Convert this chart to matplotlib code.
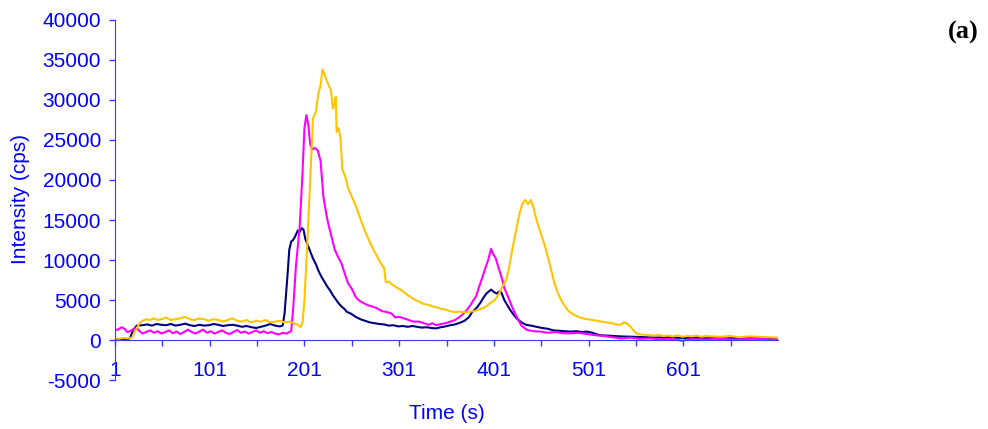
import numpy as np
import matplotlib
matplotlib.use("Agg")
import matplotlib.pyplot as plt

# data (time in s, intensity in cps)
navy_t = [1, 5, 10, 15, 17, 20, 24, 30, 35, 40, 45, 50, 55, 60, 65, 70, 75, 80, 85, 90,
          95, 100, 105, 110, 115, 120, 125, 130, 135, 140, 145, 150, 155, 160, 165, 170,
          175, 178, 180, 183, 185, 187, 189, 191, 194, 196, 198, 200, 202, 205, 208, 210,
          213, 216, 219, 222, 225, 228, 231, 234, 237, 240, 243, 246, 250, 255, 260, 265,
          270, 275, 280, 285, 290, 295, 300, 305, 310, 315, 320, 325, 330, 335, 340, 345,
          350, 355, 360, 365, 370, 375, 378, 381, 384, 387, 390, 393, 396, 398, 401, 404,
          407, 409, 412, 415, 418, 421, 425, 430, 435, 440, 446, 452, 458, 464, 470, 476,
          482, 488, 494, 499, 505, 510, 513, 520, 528, 535, 545, 555, 565, 575, 585, 595,
          605, 615, 625, 635, 645, 655, 665, 675, 685, 695, 701]
navy_v = [0, 0, 50, 100, 300, 1200, 1800, 1850, 1950, 1800, 2000, 1900, 1850, 2000, 1800,
          1900, 2050, 1850, 1750, 1900, 1800, 1850, 2000, 1900, 1750, 1850, 1900, 1800, 1650,
          1750, 1600, 1500, 1650, 1800, 2000, 1800, 1700, 1800, 3300, 7900, 11300, 12300,
          12500, 12900, 13700, 13500, 14000, 13800, 12600, 11700, 10800, 10200, 9500, 8600,
          7900, 7300, 6700, 6200, 5600, 5100, 4600, 4200, 3900, 3500, 3300, 2900, 2600, 2400,
          2200, 2100, 2000, 1950, 1800, 1850, 1700, 1750, 1650, 1750, 1650, 1550, 1600, 1500,
          1450, 1600, 1700, 1850, 1950, 2150, 2400, 2900, 3500, 3800, 4200, 4700, 5300, 5800,
          6100, 6300, 6000, 5800, 6100, 5900, 5000, 4400, 3800, 3300, 2700, 2200, 1900, 1800,
          1650, 1500, 1400, 1200, 1150, 1100, 1050, 1100, 1000, 1050, 900, 700, 600, 550, 500,
          450, 420, 380, 330, 300, 350, 280, 250, 300, 220, 280, 200, 250, 200, 300, 220, 250,
          200]

magenta_t = [1, 4, 8, 11, 14, 17, 20, 24, 27, 30, 34, 38, 42, 46, 50, 54, 58, 62, 66, 70,
             74, 78, 82, 86, 90, 94, 98, 102, 106, 110, 114, 118, 122, 126, 130, 134, 138,
             142, 146, 150, 154, 158, 162, 166, 170, 174, 178, 182, 185, 187, 189, 192, 196,
             199, 201, 203, 205, 207, 209, 212, 215, 218, 221, 224, 226, 229, 233, 236, 240,
             243, 247, 251, 255, 258, 262, 267, 272, 277, 283, 288, 293, 297, 301, 306, 311,
             316, 322, 327, 332, 336, 340, 345, 350, 355, 360, 365, 368, 372, 376, 379, 382,
             385, 389, 392, 395, 398, 400, 403, 406, 409, 412, 416, 420, 425, 430, 436, 443,
             450, 458, 466, 474, 482, 490, 499, 508, 517, 526, 535, 545, 555, 565, 575, 585,
             595, 600, 605, 615, 625, 635, 645, 655, 665, 675, 685, 695, 701]
magenta_v = [1250, 1300, 1600, 1400, 1000, 1100, 1350, 1500, 1100, 800, 1000, 1200, 900,
             1100, 800, 1000, 1200, 850, 1050, 750, 1000, 1300, 1000, 800, 1050, 1300, 900,
             1100, 800, 1000, 1200, 900, 750, 1000, 1250, 900, 1050, 800, 1000, 1200, 900,
             1100, 850, 1000, 800, 700, 900, 800, 1000, 1100, 3750, 9200, 14200, 21000,
             26500, 28100, 27000, 24500, 23800, 24000, 23700, 22400, 17900, 15800, 14600,
             13200, 11300, 10500, 9600, 8500, 7100, 6400, 5400, 5000, 4700, 4400, 4200, 4000,
             3600, 3500, 3300, 2800, 2900, 2700, 2500, 2300, 2300, 2100, 1900, 2100, 1850,
             2000, 2100, 2300, 2500, 2900, 3200, 3700, 4300, 4900, 5400, 6500, 7900, 9000,
             10000, 11400, 10800, 10200, 9000, 7900, 6500, 5400, 4200, 2900, 1800, 1250, 1100,
             1050, 900, 1000, 850, 830, 900, 750, 600, 500, 350, 200, 300, 150, 200, 100, 150,
             0, -100, 50, 100, 50, 150, 100, 50, 100, 150, 100, 50, 100]

gold_t = [1, 5, 10, 15, 19, 23, 27, 30, 34, 38, 42, 46, 50, 55, 60, 65, 70, 75, 80, 85, 90,
          95, 100, 105, 110, 115, 120, 125, 130, 135, 140, 145, 150, 155, 160, 165, 170, 175,
          180, 185, 190, 194, 197, 199, 201, 204, 207, 210, 213, 216, 218, 220, 222, 224, 226,
          229, 231, 233, 234, 235, 237, 239, 241, 244, 247, 250, 253, 257, 261, 265, 269, 273,
          277, 281, 285, 287, 290, 294, 299, 304, 309, 314, 318, 322, 327, 332, 336, 340, 345,
          350, 355, 360, 365, 370, 375, 380, 385, 390, 394, 398, 402, 406, 410, 414, 417, 421,
          425, 428, 431, 434, 437, 440, 443, 446, 450, 455, 460, 464, 468, 472, 476, 480, 485,
          490, 495, 500, 505, 510, 515, 520, 525, 530, 535, 538, 541, 545, 549, 552, 556, 560,
          565, 570, 575, 580, 585, 590, 595, 600, 605, 610, 615, 620, 625, 630, 640, 650, 660,
          670, 680, 690, 701]
gold_v = [200, 150, 250, 200, 300, 1300, 2100, 2400, 2600, 2500, 2700, 2500, 2600, 2800,
          2500, 2600, 2700, 2900, 2600, 2500, 2700, 2600, 2400, 2600, 2500, 2300, 2500, 2700,
          2400, 2300, 2500, 2200, 2400, 2300, 2500, 2200, 2300, 2400, 2200, 2300, 2100, 1900,
          1600, 2200, 5000, 12000, 20000, 27700, 28500, 31000, 31800, 33800, 33300, 32600,
          32000, 31200, 28900, 29600, 30400, 26000, 26500, 25300, 21300, 20500, 19000, 18200,
          17400, 16200, 14800, 13600, 12500, 11500, 10600, 9700, 9000, 7200, 7300, 6900, 6500,
          6200, 5700, 5300, 5000, 4800, 4500, 4400, 4200, 4100, 3900, 3800, 3600, 3500, 3550,
          3450, 3550, 3600, 3800, 4000, 4300, 4700, 5000, 5700, 6700, 7500, 9000, 11700,
          14000, 15800, 17000, 17500, 17000, 17500, 16500, 15000, 13500, 11700, 9500, 7500,
          6000, 5000, 4200, 3600, 3200, 2900, 2700, 2600, 2500, 2400, 2300, 2200, 2100, 1950,
          1900, 2200, 2100, 1700, 1100, 800, 700, 650, 600, 550, 650, 500, 550, 450, 600, 400,
          500, 450, 550, 400, 500, 450, 400, 500, 350, 450, 400, 350, 300]

y_ticks = np.arange(-5000, 40001, 5000)
x_labels = ["1", "101", "201", "301", "401", "501", "601"]

plt.rcParams['font.family'] = ['Liberation Sans', 'DejaVu Sans']
blue = "#0000FF"
axis_blue = "#3A3AFF"

fig = plt.figure(figsize=(9.88, 4.29), dpi=100)
ax = fig.add_axes([0.1164, 0.1142, 0.6711, 0.8392])

ax.plot(navy_t, navy_v, color="#000080", linewidth=1.5)
ax.plot(magenta_t, magenta_v, color="#FF00FF", linewidth=1.5)
ax.plot(gold_t, gold_v, color="#FFC400", linewidth=1.5)

ax.set_xlim(1, 701)
ax.set_ylim(-5000, 40000)

ax.spines['top'].set_visible(False)
ax.spines['right'].set_visible(False)
ax.spines['bottom'].set_position(('data', 0))
ax.spines['left'].set_color(axis_blue)
ax.spines['bottom'].set_color(axis_blue)

ax.set_yticks(y_ticks)
ax.set_yticklabels([str(v) for v in y_ticks])
ax.set_xticks(np.arange(1, 652, 50))
ax.set_xticklabels([x_labels[i // 2] if i % 2 == 0 else "" for i in range(14)])

ax.tick_params(axis='both', colors=axis_blue, labelcolor=blue, labelsize=15,
               direction='out', length=4, width=1)
ax.tick_params(axis='x', pad=11)
ax.tick_params(axis='y', pad=6)

ax.set_xlabel("Time (s)", color=blue, fontsize=15)
ax.set_ylabel("Intensity (cps)", color=blue, fontsize=15)
ax.xaxis.label.set_va('center')
ax.yaxis.label.set_va('center')
ax.xaxis.set_label_coords(0.5, -0.094)
ax.yaxis.set_label_coords(-0.143, 0.503)

fig.text(0.975, 0.925, "(a)", fontsize=19, fontweight='bold',
         family=['Liberation Serif', 'DejaVu Serif'], ha='center', va='center')

fig.savefig("out.png", dpi=100)
